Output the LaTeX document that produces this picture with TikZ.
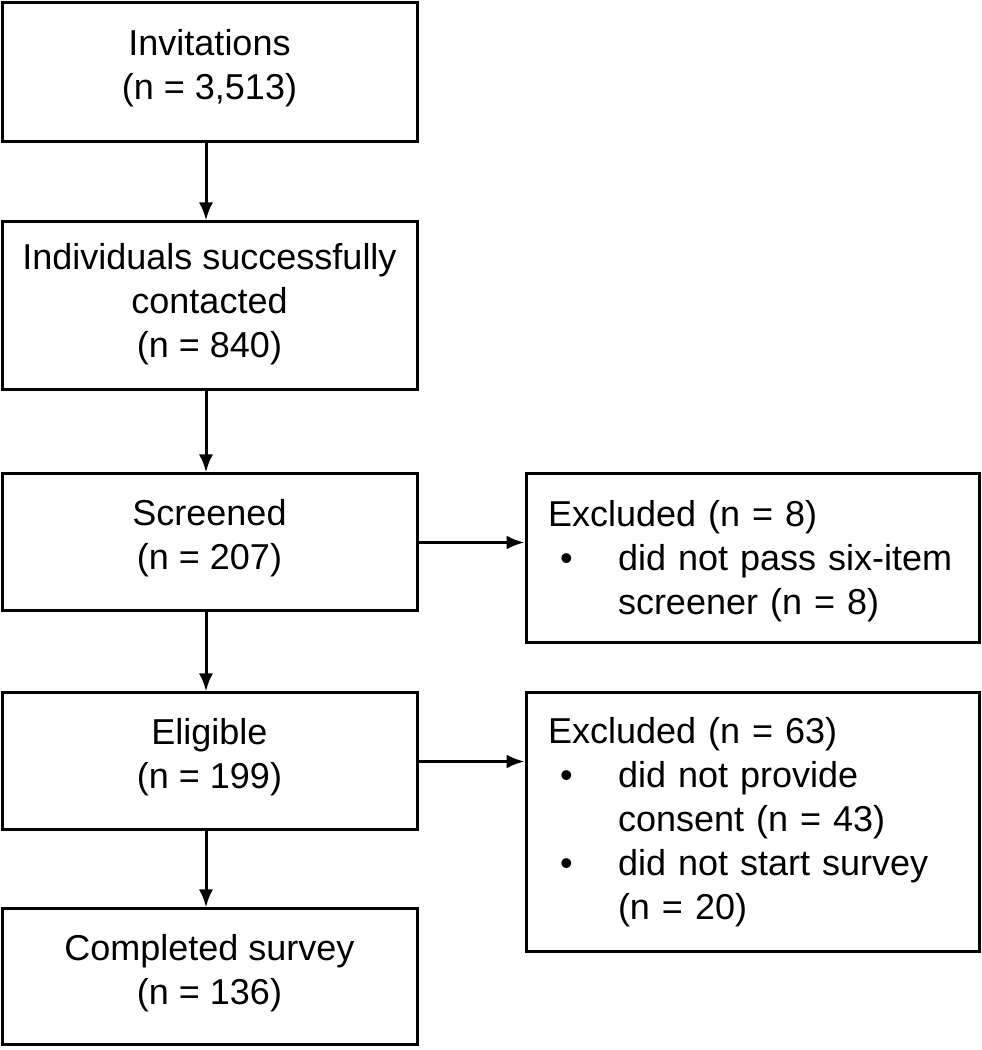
\documentclass[tikz,border=0pt]{standalone}
\usepackage{fontspec}
\setmainfont{Liberation Sans}
\usetikzlibrary{arrows.meta}
\newcommand{\updn}{\rule[-16pt]{0pt}{16pt}}
\begin{document}
\begin{tikzpicture}[x=1pt,y=1pt,
  every node/.style={font=\fontsize{36}{44}\selectfont},
  lbox/.style={draw, line width=3pt, minimum width=415pt, align=center, inner sep=0pt},
  rbox/.style={draw, line width=3pt, minimum width=453pt, text width=409pt, inner xsep=22pt, inner ysep=0pt, align=left},
  flow/.style={line width=3pt, -{Latex[length=18pt,width=14pt]}}
]
\useasboundingbox (0,0) rectangle (982,1050);
\node[lbox, minimum height=139pt] (b1) at (209.5,977.5) {Invitations\\(n = 3,513)\updn};
\node[lbox, minimum height=168pt] (b2) at (209.5,744) {Individuals successfully\\contacted\\(n = 840)\rule[-12pt]{0pt}{12pt}};
\node[lbox, minimum height=137pt] (b3) at (209.5,507.5) {Screened\\(n = 207)\updn};
\node[lbox, minimum height=137pt] (b4) at (209.5,288.5) {Eligible\\(n = 199)\updn};
\node[lbox, minimum height=136pt] (b5) at (209.5,73) {Completed survey\\(n = 136)\updn};
\node[rbox, minimum height=169pt] (r1) at (752.5,491.5) {\rule{0pt}{32pt}Excluded (n = 8)\\
\makebox[70pt][l]{\hspace*{12pt}•}did not pass six-item\\
\hspace*{70pt}screener (n = 8)};
\node[rbox, minimum height=259pt] (r2) at (752.5,227.5) {Excluded (n = 63)\\
\makebox[70pt][l]{\hspace*{12pt}•}did not provide\\
\hspace*{70pt}consent (n = 43)\\
\makebox[70pt][l]{\hspace*{12pt}•}did not start survey\\
\hspace*{70pt}(n = 20)};
\coordinate (ax) at (206,0);
\draw[flow] (b1.south -| ax) -- (b2.north -| ax);
\draw[flow] (b2.south -| ax) -- (b3.north -| ax);
\draw[flow] (b3.south -| ax) -- (b4.north -| ax);
\draw[flow] (b4.south -| ax) -- (b5.north -| ax);
\draw[flow] (b3.east) -- (b3.east -| r1.west);
\draw[flow] (b4.east) -- (b4.east -| r2.west);
\end{tikzpicture}
\end{document}
